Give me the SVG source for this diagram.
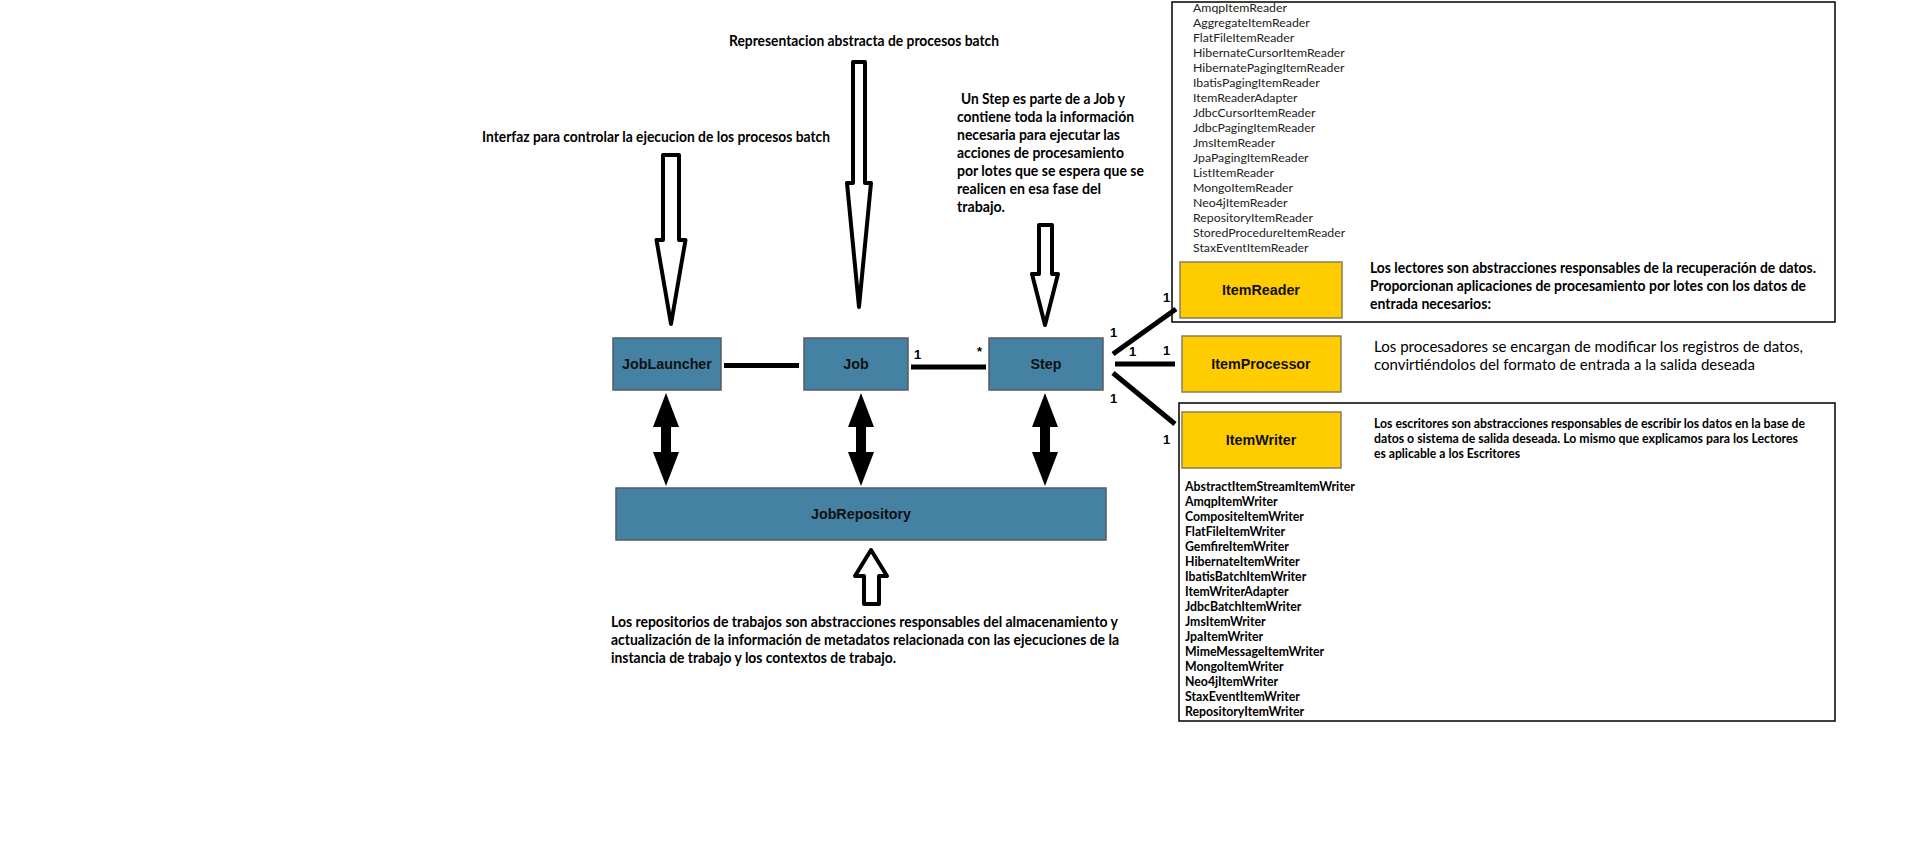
<svg xmlns="http://www.w3.org/2000/svg" width="1914" height="851" viewBox="0 0 1914 851">
<style>
.bg{fill:#ffffff}
.blue{fill:#4581a3;stroke:#555b60;stroke-width:1.5}
.yellow{fill:#ffcc00;stroke:#8a7d5e;stroke-width:1.5}
.frame{fill:none;stroke:#000;stroke-width:1.5}
.lbl{font-family:"Liberation Sans",Arial,sans-serif;font-weight:bold;font-size:14.3px;fill:#111;text-anchor:middle}
.num{font-family:"Liberation Sans",Arial,sans-serif;font-weight:bold;font-size:13px;fill:#000}
.desc{font-family:Lato,"Open Sans",sans-serif;font-weight:bold;font-size:14.5px;fill:#000}
.reg{font-family:Lato,"Open Sans",sans-serif;font-size:15px;fill:#000}
.small{font-family:Lato,"Open Sans",sans-serif;font-weight:bold;font-size:12.5px;fill:#000}
.rlist{font-family:Lato,"Open Sans",sans-serif;font-size:12.3px;fill:#222}
.wlist{font-family:Lato,"Open Sans",sans-serif;font-weight:bold;font-size:12.3px;fill:#000}
.conn{stroke:#000;stroke-width:5;fill:none}
.hollow{fill:#fff;stroke:#000;stroke-width:4;stroke-linejoin:round}
.solid{fill:#000}
</style>
<rect class="bg" x="0" y="0" width="1914" height="851"/>

<g id="connectors">
  <line class="conn" x1="724" y1="365.5" x2="799" y2="365.5"/>
  <line class="conn" x1="911" y1="367" x2="986" y2="367"/>
  <line class="conn" x1="1113" y1="354" x2="1176" y2="309"/>
  <line class="conn" x1="1115" y1="364" x2="1175" y2="364"/>
  <line class="conn" x1="1113" y1="373" x2="1175" y2="424"/>
  <text class="num" x="914" y="359">1</text>
  <text class="num" x="977" y="356">*</text>
  <text class="num" x="1110" y="337">1</text>
  <text class="num" x="1129" y="356">1</text>
  <text class="num" x="1110" y="403">1</text>
  <text class="num" x="1163" y="302">1</text>
  <text class="num" x="1163" y="355">1</text>
  <text class="num" x="1163" y="444">1</text>
  <polygon class="solid" points="666,393 679,427 671,427 671,452 679,452 666,486 653,452 661,452 661,427 653,427"/>
  <polygon class="solid" points="861,393 874,427 866,427 866,452 874,452 861,486 848,452 856,452 856,427 848,427"/>
  <polygon class="solid" points="1045,393 1058,427 1050,427 1050,452 1058,452 1045,486 1032,452 1040,452 1040,427 1032,427"/>
  <path class="hollow" d="M663,155 L679,155 L679,240 L685.5,240 L671,324 L656.5,240 L663,240 Z"/>
  <path class="hollow" d="M853,62 L865,62 L865,183 L871,183 L859,307 L847,183 L853,183 Z"/>
  <path class="hollow" d="M1039,225 L1052,225 L1052,274 L1058,274 L1045,325 L1032,274 L1039,274 Z"/>
  <path class="hollow" d="M871,550 L887,576 L879,576 L879,604 L864,604 L864,576 L855,576 Z"/>
</g>

<g id="annotations">
  <text class="desc" x="729" y="46" textLength="270" lengthAdjust="spacingAndGlyphs">Representacion abstracta de procesos batch</text>
  <text class="desc" x="482" y="142" textLength="348" lengthAdjust="spacingAndGlyphs">Interfaz para controlar la ejecucion de los procesos batch</text>
  <text class="desc" x="961" y="104" textLength="164" lengthAdjust="spacingAndGlyphs">Un Step es parte de a Job y</text>
  <text class="desc" x="957" y="122" textLength="177" lengthAdjust="spacingAndGlyphs">contiene toda la información</text>
  <text class="desc" x="957" y="140" textLength="163" lengthAdjust="spacingAndGlyphs">necesaria para ejecutar las</text>
  <text class="desc" x="957" y="158" textLength="167" lengthAdjust="spacingAndGlyphs">acciones de procesamiento</text>
  <text class="desc" x="957" y="176" textLength="187" lengthAdjust="spacingAndGlyphs">por lotes que se espera que se</text>
  <text class="desc" x="957" y="194" textLength="144" lengthAdjust="spacingAndGlyphs">realicen en esa fase del</text>
  <text class="desc" x="957" y="212" textLength="48" lengthAdjust="spacingAndGlyphs">trabajo.</text>
  <text class="desc" x="611" y="627" textLength="507" lengthAdjust="spacingAndGlyphs">Los repositorios de trabajos son abstracciones responsables del almacenamiento y</text>
  <text class="desc" x="611" y="645" textLength="508" lengthAdjust="spacingAndGlyphs">actualización de la información de metadatos relacionada con las ejecuciones de la</text>
  <text class="desc" x="611" y="663" textLength="285" lengthAdjust="spacingAndGlyphs">instancia de trabajo y los contextos de trabajo.</text>
</g>

<g id="JobLauncher">
  <rect class="blue" x="613" y="338" width="108" height="52"/>
  <text class="lbl" x="667" y="369">JobLauncher</text>
</g>
<g id="Job">
  <rect class="blue" x="804" y="338" width="104" height="52"/>
  <text class="lbl" x="856" y="369">Job</text>
</g>
<g id="Step">
  <rect class="blue" x="989" y="338" width="114" height="52"/>
  <text class="lbl" x="1046" y="369">Step</text>
</g>
<g id="JobRepository">
  <rect class="blue" x="616" y="488" width="490" height="52"/>
  <text class="lbl" x="861" y="519">JobRepository</text>
</g>

<g id="ItemReaderGroup">
  <rect class="frame" x="1172" y="2" width="663" height="320"/>
  <text class="rlist" x="1193" y="12">AmqpItemReader</text>
  <text class="rlist" x="1193" y="27">AggregateItemReader</text>
  <text class="rlist" x="1193" y="42">FlatFileItemReader</text>
  <text class="rlist" x="1193" y="57">HibernateCursorItemReader</text>
  <text class="rlist" x="1193" y="72">HibernatePagingItemReader</text>
  <text class="rlist" x="1193" y="87">IbatisPagingItemReader</text>
  <text class="rlist" x="1193" y="102">ItemReaderAdapter</text>
  <text class="rlist" x="1193" y="117">JdbcCursorItemReader</text>
  <text class="rlist" x="1193" y="132">JdbcPagingItemReader</text>
  <text class="rlist" x="1193" y="147">JmsItemReader</text>
  <text class="rlist" x="1193" y="162">JpaPagingItemReader</text>
  <text class="rlist" x="1193" y="177">ListItemReader</text>
  <text class="rlist" x="1193" y="192">MongoItemReader</text>
  <text class="rlist" x="1193" y="207">Neo4jItemReader</text>
  <text class="rlist" x="1193" y="222">RepositoryItemReader</text>
  <text class="rlist" x="1193" y="237">StoredProcedureItemReader</text>
  <text class="rlist" x="1193" y="252">StaxEventItemReader</text>
  <g id="ItemReader">
    <rect class="yellow" x="1180" y="262" width="162" height="56"/>
    <text class="lbl" x="1261" y="295">ItemReader</text>
  </g>
  <text class="desc" x="1370" y="273" textLength="446" lengthAdjust="spacingAndGlyphs">Los lectores son abstracciones responsables de la recuperación de datos.</text>
  <text class="desc" x="1370" y="291" textLength="436" lengthAdjust="spacingAndGlyphs">Proporcionan aplicaciones de procesamiento por lotes con los datos de</text>
  <text class="desc" x="1370" y="309" textLength="121" lengthAdjust="spacingAndGlyphs">entrada necesarios:</text>
</g>

<g id="ItemProcessor">
  <rect class="yellow" x="1182" y="336" width="159" height="56"/>
  <text class="lbl" x="1261" y="369">ItemProcessor</text>
  <text class="reg" x="1374" y="352" textLength="429" lengthAdjust="spacingAndGlyphs">Los procesadores se encargan de modificar los registros de datos,</text>
  <text class="reg" x="1374" y="370" textLength="381" lengthAdjust="spacingAndGlyphs">convirtiéndolos del formato de entrada a la salida deseada</text>
</g>

<g id="ItemWriterGroup">
  <rect class="frame" x="1179" y="403" width="656" height="318"/>
  <g id="ItemWriter">
    <rect class="yellow" x="1182" y="412" width="159" height="56"/>
    <text class="lbl" x="1261" y="445">ItemWriter</text>
  </g>
  <text class="small" x="1374" y="428" textLength="431" lengthAdjust="spacingAndGlyphs">Los escritores son abstracciones responsables de escribir los datos en la base de</text>
  <text class="small" x="1374" y="443" textLength="424" lengthAdjust="spacingAndGlyphs">datos o sistema de salida deseada. Lo mismo que explicamos para los Lectores</text>
  <text class="small" x="1374" y="458" textLength="146" lengthAdjust="spacingAndGlyphs">es aplicable a los Escritores</text>
  <text class="wlist" x="1185" y="491">AbstractItemStreamItemWriter</text>
  <text class="wlist" x="1185" y="506">AmqpItemWriter</text>
  <text class="wlist" x="1185" y="521">CompositeItemWriter</text>
  <text class="wlist" x="1185" y="536">FlatFileItemWriter</text>
  <text class="wlist" x="1185" y="551">GemfireItemWriter</text>
  <text class="wlist" x="1185" y="566">HibernateItemWriter</text>
  <text class="wlist" x="1185" y="581">IbatisBatchItemWriter</text>
  <text class="wlist" x="1185" y="596">ItemWriterAdapter</text>
  <text class="wlist" x="1185" y="611">JdbcBatchItemWriter</text>
  <text class="wlist" x="1185" y="626">JmsItemWriter</text>
  <text class="wlist" x="1185" y="641">JpaItemWriter</text>
  <text class="wlist" x="1185" y="656">MimeMessageItemWriter</text>
  <text class="wlist" x="1185" y="671">MongoItemWriter</text>
  <text class="wlist" x="1185" y="686">Neo4jItemWriter</text>
  <text class="wlist" x="1185" y="701">StaxEventItemWriter</text>
  <text class="wlist" x="1185" y="716">RepositoryItemWriter</text>
</g>
</svg>
